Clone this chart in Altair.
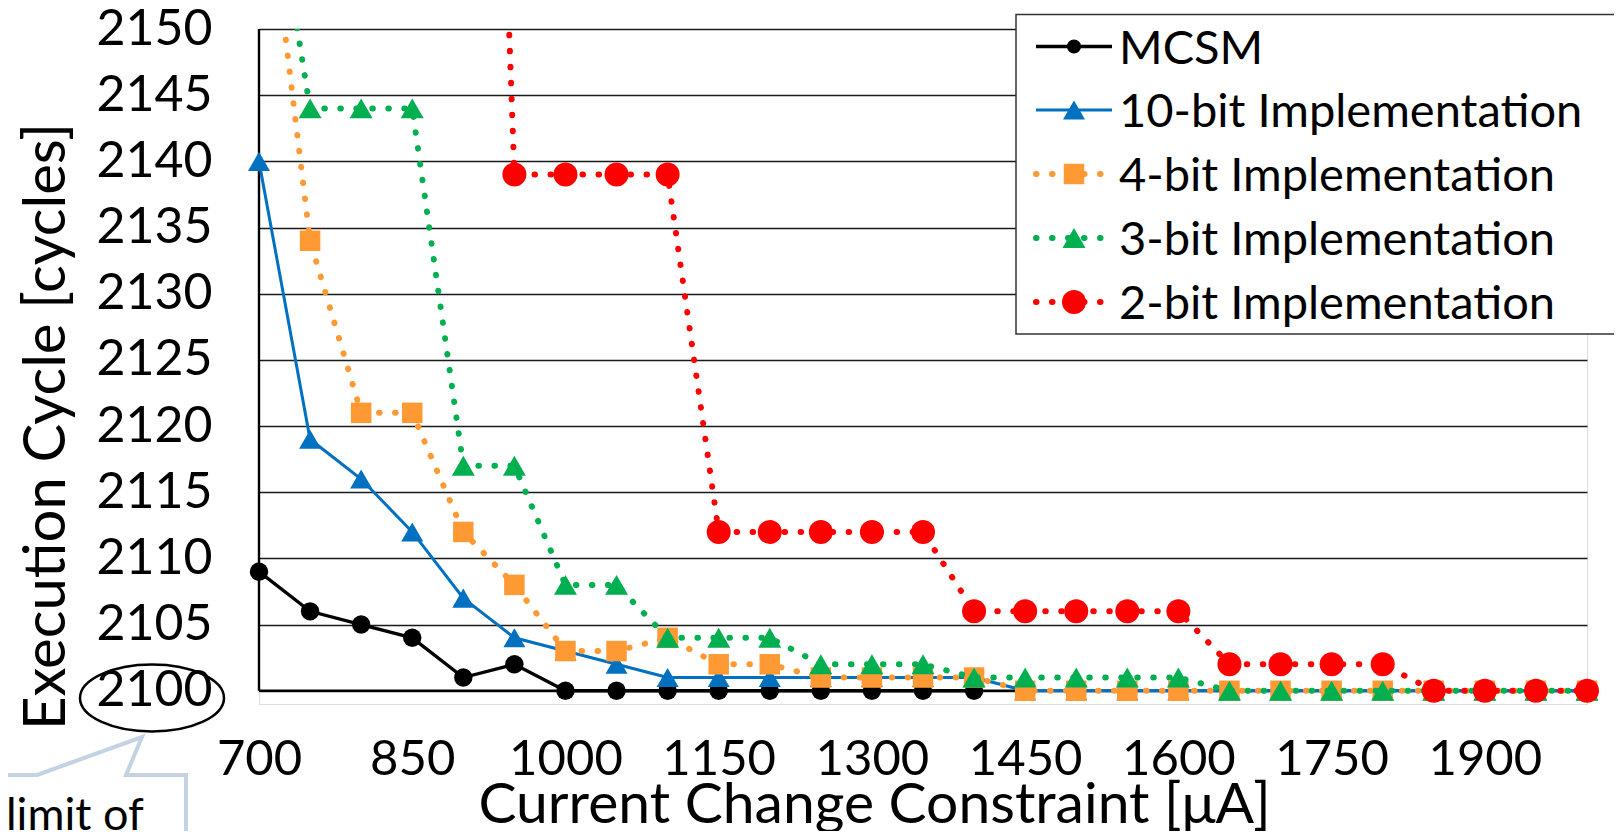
import altair as alt
import pandas as pd

FONT = "Lato"

x_values = [700, 750, 800, 850, 900, 950, 1000, 1050, 1100, 1150, 1200, 1250, 1300, 1350,
            1400, 1450, 1500, 1550, 1600, 1650, 1700, 1750, 1800, 1850, 1900, 1950, 2000]
series_names = ["MCSM", "10-bit Implementation", "4-bit Implementation",
                "3-bit Implementation", "2-bit Implementation"]
mcsm = [2109, 2106, 2105, 2104, 2101, 2102, 2100, 2100, 2100, 2100, 2100, 2100, 2100, 2100,
        2100, None, None, None, None, None, None, None, None, None, None, None, None]
bit10 = [2140, 2119, 2116, 2112, 2107, 2104, 2103, 2102, 2101, 2101, 2101, 2101, 2101, 2101,
         2101, 2100, 2100, 2100, 2100, 2100, 2100, 2100, 2100, 2100, 2100, 2100, 2100]
bit4 = [2166, 2134, 2121, 2121, 2112, 2108, 2103, 2103, 2104, 2102, 2102, 2101, 2101, 2101,
        2101, 2100, 2100, 2100, 2100, 2100, 2100, 2100, 2100, 2100, 2100, 2100, 2100]
bit3 = [2168, 2144, 2144, 2144, 2117, 2117, 2108, 2108, 2104, 2104, 2104, 2102, 2102, 2102,
        2101, 2101, 2101, 2101, 2101, 2100, 2100, 2100, 2100, 2100, 2100, 2100, 2100]
bit2 = [None, None, None, None, 2245, 2139, 2139, 2139, 2139, 2112, 2112, 2112, 2112, 2112,
        2106, 2106, 2106, 2106, 2106, 2102, 2102, 2102, 2102, 2100, 2100, 2100, 2100]
y_ticks = [2100, 2105, 2110, 2115, 2120, 2125, 2130, 2135, 2140, 2145, 2150]
x_ticks = [700, 850, 1000, 1150, 1300, 1450, 1600, 1750, 1900]
x_title = "Current Change Constraint [μA]"
y_title = "Execution Cycle [cycles]"
note_text = "limit of"

series_values = [mcsm, bit10, bit4, bit3, bit2]

# styles
colors = ["#000000", "#0070C0", "#FF9933", "#00B050", "#FF0000"]
shapes = ["circle", "triangle-up", "square", "triangle-up", "circle"]
sizes = [340, 484, 420, 529, 576]
dotted = [False, False, True, True, True]
line_widths = [3.3, 3.0, 6.0, 6.0, 6.0]

rows = []
for name, vals in zip(series_names, series_values):
    for xv, yv in zip(x_values, vals):
        if yv is not None:
            rows.append({"series": name, "x": xv, "y": yv})
df = pd.DataFrame(rows)

W, H = 1328, 675
xscale = alt.Scale(domain=[x_values[0], x_values[-1]], nice=False, zero=False)
yscale = alt.Scale(domain=[y_ticks[0] - 1, y_ticks[-1]], nice=False, zero=False)

x_axis = alt.Axis(values=x_ticks, title=x_title, format="d", grid=False, domain=False,
                  ticks=False, labelFont=FONT, labelFontSize=49, labelColor="black",
                  labelPadding=31, labelFlush=False, labelOverlap=False, labelBound=False,
                  titleFont=FONT, titleFontSize=57, titleFontWeight="normal",
                  titleColor="black", titleX=615, titleY=118, titleBaseline="alphabetic",
                  titleAlign="center")
y_axis = alt.Axis(values=y_ticks, title=y_title, format="d", grid=True, gridColor="#1a1a1a",
                  gridWidth=1.7, domain=False, ticks=False, tickSize=0, labelFont=FONT,
                  labelFontSize=50, labelColor="black", labelPadding=47,
                  labelBaseline="middle", labelFlush=False, labelOverlap=False,
                  labelBound=False, titleFont=FONT, titleFontSize=58,
                  titleFontWeight="normal", titleColor="black", titleX=-195, titleY=397,
                  titleAngle=270, titleBaseline="alphabetic", titleAlign="center")

X = alt.X("x:Q", scale=xscale, axis=x_axis)
Y = alt.Y("y:Q", scale=yscale, axis=y_axis)

layers = []

# axis lines
base_df = pd.DataFrame({"x": [x_values[0]], "x2": [x_values[-1]], "y": [y_ticks[0]]})
left_df = pd.DataFrame({"x": [x_values[0]], "y": [y_ticks[0]], "y2": [y_ticks[-1]]})
layers.append(alt.Chart(base_df).mark_rule(color="black", strokeWidth=2.6).encode(
    x=X, x2="x2:Q", y=Y))
layers.append(alt.Chart(left_df).mark_rule(color="black", strokeWidth=2.4).encode(
    x=X, y=Y, y2="y2:Q"))

for i, name in enumerate(series_names):
    sub = alt.Chart(df).transform_filter(alt.datum.series == name)
    lkw = dict(color=colors[i], strokeWidth=line_widths[i], clip=True)
    if dotted[i]:
        lkw.update(strokeDash=[0.5, 15.5], strokeCap="round")
    layers.append(sub.mark_line(**lkw).encode(x=X, y=Y))
    layers.append(sub.transform_filter(alt.datum.y <= y_ticks[-1]).mark_point(
        filled=True, shape=shapes[i], size=sizes[i], color=colors[i], opacity=1,
        strokeWidth=0).encode(x=X, y=Y))

# legend box
layers.append(alt.Chart(pd.DataFrame({"a": [0]})).mark_rect(
    fill="white", stroke="#333333", strokeWidth=1.5).encode(
    x=alt.value(757), x2=alt.value(1420), y=alt.value(-14.5), y2=alt.value(305)))

legend_rows = [17.5, 81, 145, 209, 273]
legend_sizes = [200, 484, 420, 529, 576]
for i, name in enumerate(series_names):
    d = alt.Chart(pd.DataFrame({"label": [name]}))
    ry = legend_rows[i]
    rkw = dict(color=colors[i], strokeWidth=line_widths[i])
    if dotted[i]:
        rkw.update(strokeDash=[0.5, 15.5], strokeCap="round")
    layers.append(d.mark_rule(**rkw).encode(x=alt.value(777), x2=alt.value(853), y=alt.value(ry)))
    layers.append(d.mark_point(filled=True, shape=shapes[i], size=legend_sizes[i],
                               color=colors[i], opacity=1, strokeWidth=0).encode(
        x=alt.value(815), y=alt.value(ry)))
    layers.append(d.mark_text(align="left", baseline="alphabetic", font=FONT, fontSize=47,
                              color="black").encode(
        x=alt.value(860), y=alt.value(ry + 17), text="label:N"))

# ellipse around 2100
ellipse = "M -72 0 A 72 33.5 0 1 0 72 0 A 72 33.5 0 1 0 -72 0 Z"
layers.append(alt.Chart(pd.DataFrame({"a": [0]})).mark_point(
    shape=ellipse, size=4, filled=False, color="black", strokeWidth=2.5, opacity=1).encode(
    x=alt.value(-107), y=alt.value(669)))

# callout
callout = "M -10 0 L 37 0 L 142 -38 L 126 0 L 186 0 L 186 90"
layers.append(alt.Chart(pd.DataFrame({"a": [0]})).mark_point(
    shape=callout, size=4, filled=False, color="#C3D3E3", strokeWidth=4, opacity=1).encode(
    x=alt.value(-259), y=alt.value(746)))
layers.append(alt.Chart(pd.DataFrame({"t": [note_text]})).mark_text(
    align="left", baseline="alphabetic", font=FONT, fontSize=45, color="black").encode(
    x=alt.value(-253), y=alt.value(801), text="t:N"))

chart = alt.layer(*layers).properties(
    width=W, height=H,
    padding={"left": 251, "top": 21, "right": 27, "bottom": 127},
    autosize=alt.AutoSizeParams(type="none"),
).configure_view(stroke="transparent").configure(background="white")

chart.save("out.html", embed_options={"renderer": "svg", "actions": False})
